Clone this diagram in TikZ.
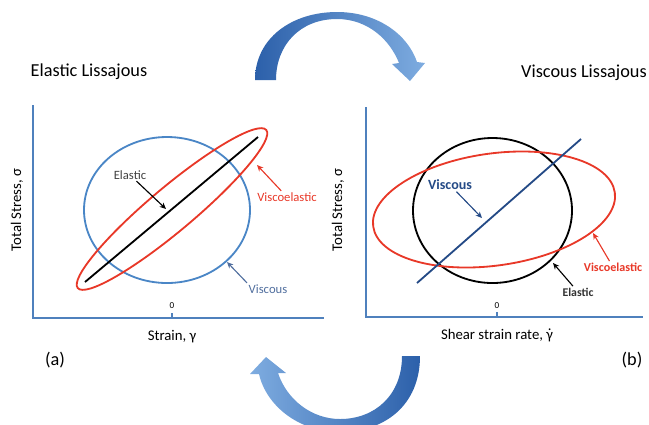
\documentclass[tikz,border=0pt]{standalone}
\usepackage{fontspec}
\setmainfont{Carlito}
\usetikzlibrary{arrows.meta}
\definecolor{axisblue}{RGB}{79,129,189}
\definecolor{loopblue}{RGB}{74,134,198}
\definecolor{loopred}{RGB}{232,56,40}
\definecolor{deepblue}{RGB}{36,74,134}
\definecolor{arcdark}{RGB}{44,96,170}
\definecolor{arclight}{RGB}{126,172,224}
\newcommand{\gdot}{\ooalign{γ\cr\hidewidth\raisebox{1.2ex}{.}\hidewidth\cr}}

\begin{document}
\begin{tikzpicture}[x=0.025cm, y=-0.025cm,
  axis/.style={axisblue, line width=1pt},
  loop/.style={line width=1.3pt},
  ptr/.style={-{Stealth[length=4.5pt,width=4pt]}, line width=0.8pt},
  lbl/.style={font=\fontsize{9}{11}\selectfont, inner sep=1pt},
  axlbl/.style={font=\fontsize{10.5}{12}\selectfont},
  ttl/.style={font=\fontsize{13}{15}\selectfont}]
  \useasboundingbox (0,0) rectangle (649,424);
  \clip (0,0) rectangle (649,424);

  % swap arrows
  \shade[left color=arcdark, right color=arclight]
    (255,80) .. controls (255,38) and (292,12) .. (337,12)
    .. controls (378,12) and (408,35) .. (417,62)
    -- (425,63) -- (410,81) -- (392,64) -- (399,63)
    .. controls (390,40) and (368,19) .. (337,19)
    .. controls (300,19) and (276,45) .. (276,80) -- cycle;
  \shade[left color=arclight, right color=arcdark]
    (402,356) -- (420,356) .. controls (420,405) and (385,432) .. (340,432)
    .. controls (298,432) and (266,405) .. (259,374)
    -- (250,374) -- (266,357) -- (286,373) -- (278,373)
    .. controls (287,400) and (312,419) .. (340,419)
    .. controls (375,419) and (402,395) .. (402,356) -- cycle;

  % (a) elastic
  \node[ttl] (ttlA) at (89,72) {Elastic Lissajous};
  \draw[axis] (33,105) -- (33,318) -- (324,318);
  \draw[axis] (172,318) -- (172,313);
  \node[font=\fontsize{6.5}{7}\selectfont] (zeroA) at (172,306) {0};
  \node[axlbl] (xlA) at (172,337) {Strain, γ};
  \node[axlbl, rotate=90] (ylA) at (17,210) {Total Stress, σ};
  \node[ttl] (tagA) at (55,360) {(a)};
  \draw[loopblue, loop] (167,210) ellipse [x radius=83, y radius=73];
  \draw[loopred, loop, rotate around={40:(172,209)}] (172,209) ellipse [x radius=123, y radius=22];
  \draw[black, loop] (85,282) -- (258,137);
  \node[lbl, black!75] (elA) at (130,175) {Elastic};
  \node[lbl, loopred] (veA) at (287,197) {Viscoelastic};
  \node[lbl, deepblue!80] (viA) at (268,289) {Viscous};
  \coordinate (elAtip) at (166,209);
  \coordinate (veAtip) at (257,165);
  \coordinate (viAtip) at (227,262);
  \draw[ptr, black] (elA) -- (elAtip);
  \draw[ptr, loopred] (veA) -- (veAtip);
  \draw[ptr, deepblue!80] (viA.north west) -- (viAtip);

  % (b) viscous
  \node[ttl] (ttlB) at (584,73) {Viscous Lissajous};
  \draw[axis] (366,107) -- (366,317) -- (643,317);
  \draw[axis] (497,317) -- (497,312);
  \node[font=\fontsize{6.5}{7}\selectfont] (zeroB) at (497,306) {0};
  \node[axlbl] (xlB) at (497,335) {Shear strain rate, \gdot};
  \node[axlbl, rotate=90] (ylB) at (338,210) {Total Stress, σ};
  \node[ttl] (tagB) at (632,360) {(b)};
  \draw[black, loop] (492.5,210.5) ellipse [x radius=79.5, y radius=72.5];
  \draw[loopred, loop, rotate around={8:(494,209.5)}] (494,209.5) ellipse [x radius=122, y radius=56];
  \draw[deepblue, loop] (417,283) -- (581,139);
  \node[lbl, deepblue, font=\bfseries\fontsize{10}{12}\selectfont] (viB) at (450,185) {Viscous};
  \node[lbl, loopred, font=\bfseries\fontsize{8.6}{10}\selectfont] (veB) at (613,267) {Viscoelastic};
  \node[lbl, black!80, font=\bfseries\fontsize{8.4}{10}\selectfont] (elB) at (578,292) {Elastic};
  \coordinate (viBtip) at (482,218);
  \coordinate (veBtip) at (593,233);
  \coordinate (elBtip) at (553,263);
  \draw[ptr, deepblue] (viB) -- (viBtip);
  \draw[ptr, loopred] (veB) -- (veBtip);
  \draw[ptr, black] (elB) -- (elBtip);
\end{tikzpicture}
\end{document}
